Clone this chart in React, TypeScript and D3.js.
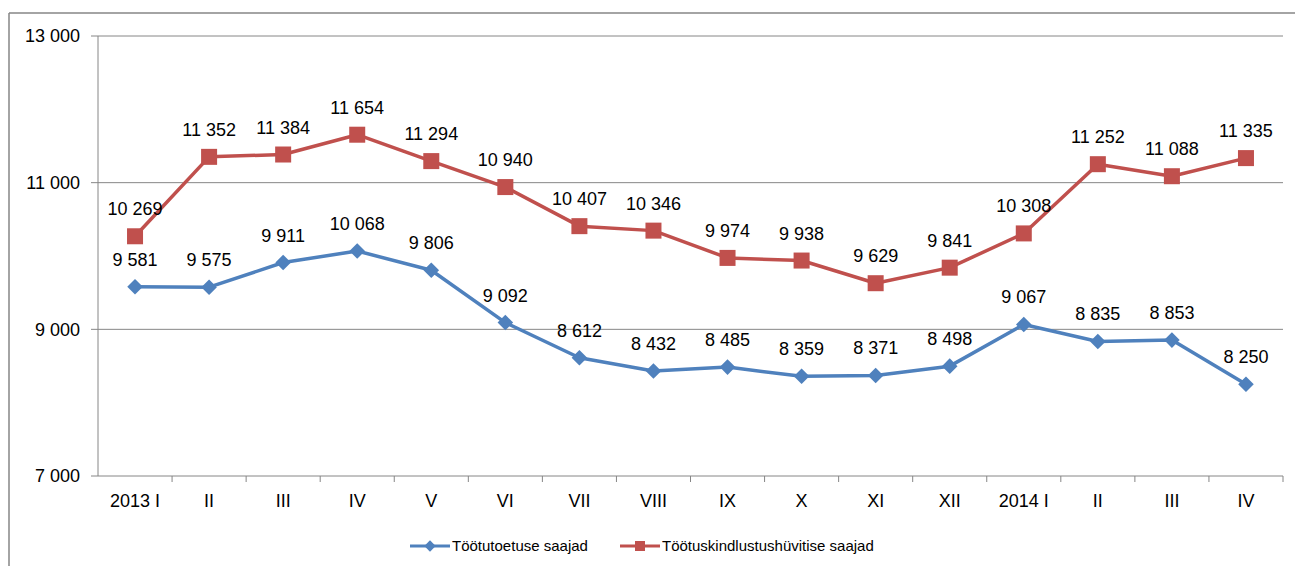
import * as React from 'react';
import { scaleBand, scaleLinear, line } from 'd3';

// kuud / periods
const periods = ['2013 I', 'II', 'III', 'IV', 'V', 'VI', 'VII', 'VIII', 'IX', 'X', 'XI', 'XII', '2014 I', 'II', 'III', 'IV'];
const toetus = [9581, 9575, 9911, 10068, 9806, 9092, 8612, 8432, 8485, 8359, 8371, 8498, 9067, 8835, 8853, 8250];
const kindlustus = [10269, 11352, 11384, 11654, 11294, 10940, 10407, 10346, 9974, 9938, 9629, 9841, 10308, 11252, 11088, 11335];
const yTicks = [7000, 9000, 11000, 13000];

const seriesNames = ['Töötutoetuse saajad', 'Töötuskindlustushüvitise saajad'];
const BLUE = '#4F81BD';
const RED = '#C0504D';
const FONT = '"Liberation Sans", Arial, sans-serif';

const fmt = (v: number) => {
    const s = String(v);
    return s.length > 3 ? s.slice(0, s.length - 3) + ' ' + s.slice(-3) : s;
};

const W = 1295;
const H = 566;
const margin = { top: 36, left: 98, right: 12, bottom: 90 };

const App = () => {
    const plotW = W - margin.left - margin.right;
    const plotH = H - margin.top - margin.bottom;

    const x = scaleBand<string>().domain(periods.map((p, i) => i + '')).range([0, plotW]);
    const y = scaleLinear().domain([7000, 13000]).range([plotH, 0]);
    const cx = (i: number) => (x(i + '') || 0) + x.bandwidth() / 2;

    const path = line<number>().x((d, i) => cx(i)).y(d => y(d));

    return (
        <svg width={W} height={H} style={{ position: 'absolute', left: 0, top: 0, background: 'white' }}>
            {/* outer frame */}
            <line x1={9} x2={W} y1={13} y2={13} stroke="#868686" strokeWidth={1.5} />
            <line x1={9} x2={9} y1={13} y2={H} stroke="#868686" strokeWidth={1.5} />
            <g transform={`translate(${margin.left}, ${margin.top})`} fontFamily={FONT}>
                {yTicks.map(t => (
                    <g key={t}>
                        <line x1={-7} x2={plotW} y1={y(t)} y2={y(t)} stroke="#868686" strokeWidth={1} />
                        <text x={-18} y={y(t)} dy="0.35em" textAnchor="end" fontSize={18} fill="#000">{fmt(t)}</text>
                    </g>
                ))}
                <line x1={0} x2={0} y1={0} y2={plotH} stroke="#868686" />
                {periods.map((p, i) => (
                    <g key={i}>
                        <line x1={(x(i + '') || 0) + x.bandwidth()} x2={(x(i + '') || 0) + x.bandwidth()} y1={plotH} y2={plotH + 6} stroke="#868686" />
                        <text x={cx(i)} y={plotH + 31} textAnchor="middle" fontSize={18} fill="#000">{p}</text>
                    </g>
                ))}

                <path d={path(toetus) || ''} fill="none" stroke={BLUE} strokeWidth={3.5} strokeLinejoin="round" />
                {toetus.map((v, i) => (
                    <rect key={i} x={cx(i) - 5.5} y={y(v) - 5.5} width={11} height={11} fill={BLUE} transform={`rotate(45 ${cx(i)} ${y(v)})`} />
                ))}
                <path d={path(kindlustus) || ''} fill="none" stroke={RED} strokeWidth={3.5} strokeLinejoin="round" />
                {kindlustus.map((v, i) => (
                    <rect key={i} x={cx(i) - 8} y={y(v) - 8} width={16} height={16} fill={RED} />
                ))}

                {toetus.map((v, i) => (
                    <text key={i} x={cx(i)} y={y(v) - 21} textAnchor="middle" fontSize={18} fill="#000">{fmt(v)}</text>
                ))}
                {kindlustus.map((v, i) => (
                    <text key={i} x={cx(i)} y={y(v) - 21} textAnchor="middle" fontSize={18} fill="#000">{fmt(v)}</text>
                ))}
            </g>

            {/* legend */}
            <g fontFamily={FONT} fontSize={15}>
                <line x1={410} x2={450} y1={546} y2={546} stroke={BLUE} strokeWidth={3} />
                <rect x={426} y={542} width={8} height={8} fill={BLUE} transform="rotate(45 430 546)" />
                <text x={452} y={546} dy="0.35em" fill="#000">{seriesNames[0]}</text>
                <line x1={620} x2={660} y1={546} y2={546} stroke={RED} strokeWidth={3} />
                <rect x={635} y={541} width={10} height={10} fill={RED} />
                <text x={662} y={546} dy="0.35em" fill="#000">{seriesNames[1]}</text>
            </g>
        </svg>
    );
};

export default App;
